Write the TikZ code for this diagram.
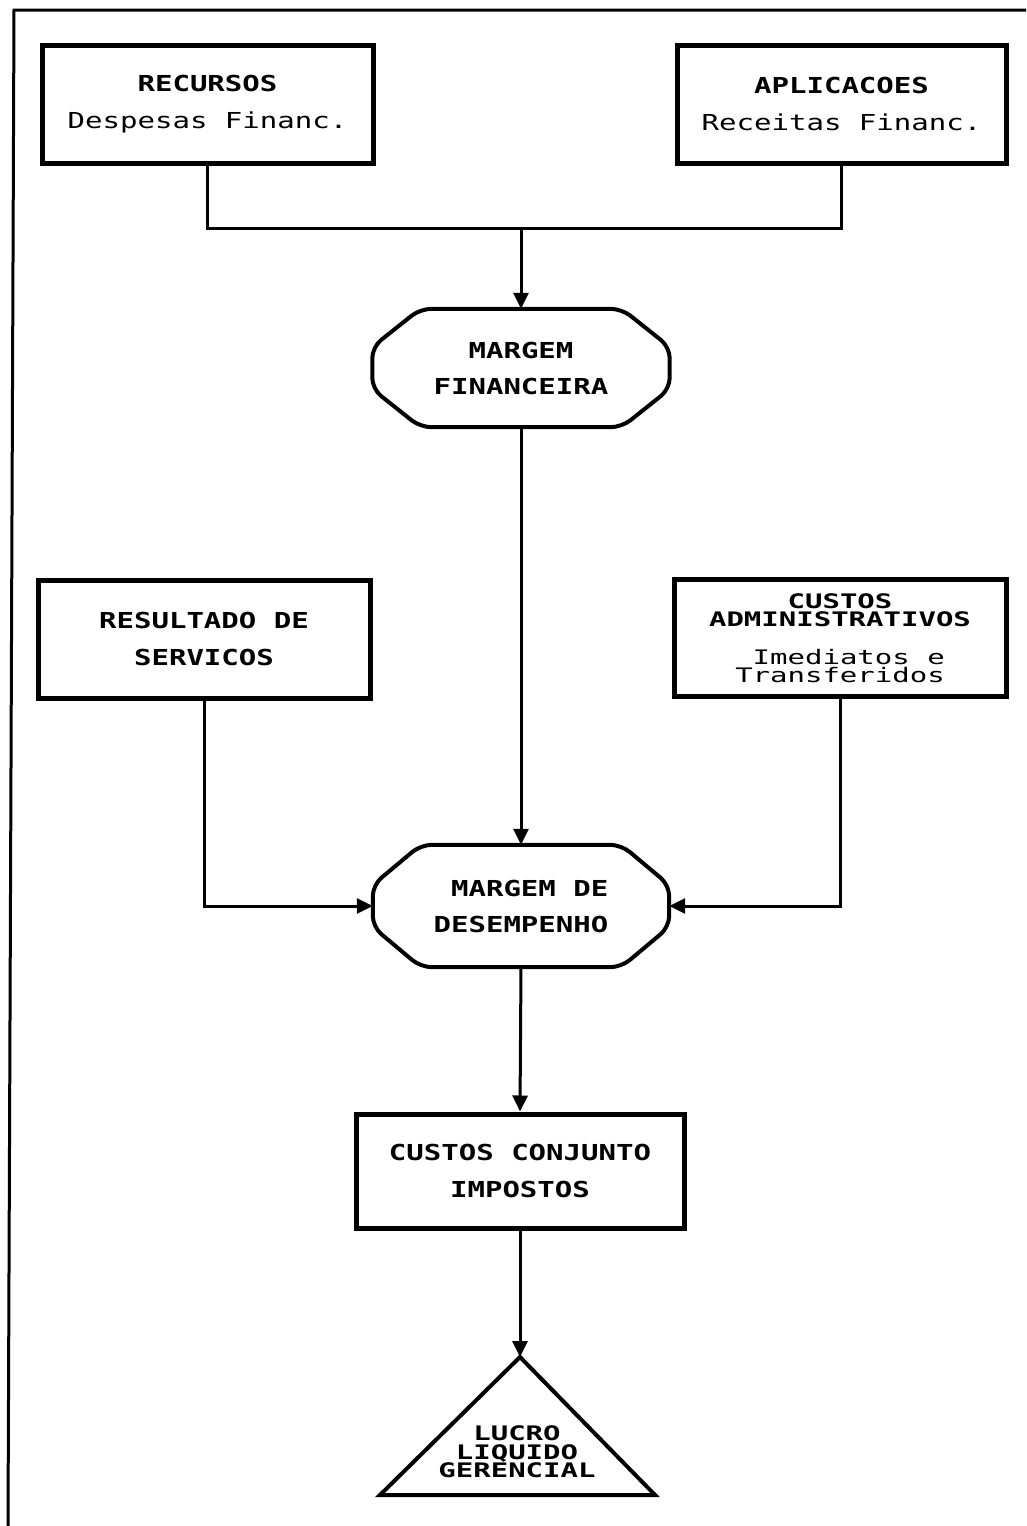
\documentclass[tikz,border=0pt]{standalone}
\usepackage{fontspec}
\usepackage{graphicx}
\newfontfamily\mono{DejaVu Sans Mono}
\usetikzlibrary{arrows.meta,calc}
\newcommand\stx[1]{\scalebox{1.32}[1]{#1}}
\newcommand\stn[1]{\scalebox{1.45}[1]{#1}}
\newcommand\tightlines{\lineskiplimit=-20pt\relax}
\newcommand\octagonof[1]{%
  \draw[octline] ($(#1.north west)+(48,0)$) -- ($(#1.north east)+(-48,0)$)
    -- ($(#1.east)+(0,-21)$) -- ($(#1.east)+(0,21)$)
    -- ($(#1.south east)+(-48,0)$) -- ($(#1.south west)+(48,0)$)
    -- ($(#1.west)+(0,21)$) -- ($(#1.west)+(0,-21)$) -- cycle;}
\tikzset{
  boxnode/.style={draw, line width=5pt, inner sep=0pt, align=center,
    font=\mono\fontsize{22}{37}\selectfont},
  adminnode/.style={draw, line width=5pt, inner sep=0pt, align=center,
    font=\mono\fontsize{20}{18.5}\selectfont\tightlines},
  octnode/.style={inner sep=0pt, align=center,
    font=\mono\fontsize{22}{36}\selectfont},
  octline/.style={line width=4pt, rounded corners=11pt, line join=round},
  triline/.style={line width=4pt, line join=miter},
  conn/.style={line width=3pt},
  arr/.style={conn, -{Triangle[length=16pt,width=15pt]}},
  tighttext/.style={inner sep=0pt, align=center,
    font=\mono\fontsize{20}{18.5}\selectfont\tightlines},
}
\begin{document}
\begin{tikzpicture}[x=1pt,y=-1pt]
\useasboundingbox (0,0) rectangle (1026,1526);
\fill[white] (0,0) rectangle (1026,1526);
% page frame
\draw[line width=3pt] (8,1526) -- (14,10) -- (1026,10);

% nodes
\node[boxnode, minimum width=331pt, minimum height=118pt] (recursos) at (207.5,104)
  {\stx{\bfseries RECURSOS}\\\stx{Despesas Financ.}};
\node[boxnode, minimum width=329pt, minimum height=118pt] (aplic) at (841.5,104)
  {\stx{\bfseries APLICACOES}\\\stx{Receitas Financ.}};
\node[octnode, minimum width=297pt, minimum height=118pt] (mfin) at (521,368)
  {\stx{\bfseries MARGEM}\\\stx{\bfseries FINANCEIRA}};
\octagonof{mfin}
\node[boxnode, minimum width=332pt, minimum height=118pt] (result) at (204,639)
  {\stx{\bfseries RESULTADO DE}\\\stx{\bfseries SERVICOS}};
\node[adminnode, minimum width=332pt, minimum height=117pt] (admin) at (840,638)
  {\stn{\bfseries CUSTOS}\\\stn{\bfseries ADMINISTRATIVOS}\\[19pt]\stn{\phantom{x}Imediatos e}\\\stn{Transferidos}};
\node[octnode, minimum width=296pt, minimum height=122pt] (mdes) at (521,906)
  {\stx{\bfseries\phantom{M}MARGEM DE}\\\stx{\bfseries DESEMPENHO}};
\octagonof{mdes}
\node[boxnode, minimum width=328pt, minimum height=114pt] (custos) at (520,1171)
  {\stx{\bfseries CUSTOS CONJUNTO}\\\stx{\bfseries IMPOSTOS}};
\coordinate (lucrotop) at (520,1357);
\draw[triline] (lucrotop) -- (655,1495) -- (380,1495) -- cycle;
\node[tighttext] (lucro) at (517,1452)
  {\stn{\bfseries LUCRO}\\\stn{\bfseries LIQUIDO}\\\stn{\bfseries GERENCIAL}};

% connectors
\coordinate (topjoin) at (521,228);
\draw[conn] (recursos.south) |- (topjoin) -| (aplic.south);
\draw[arr] (topjoin) -- (mfin.north);
\draw[arr] (mfin.south) -- (mdes.north);
\draw[arr] (result.south) |- (mdes.west);
\draw[arr] (admin.south) |- (mdes.east);
\draw[arr] (mdes.south) -- (custos.north);
\draw[arr] (custos.south) -- (lucrotop);
\end{tikzpicture}
\end{document}
